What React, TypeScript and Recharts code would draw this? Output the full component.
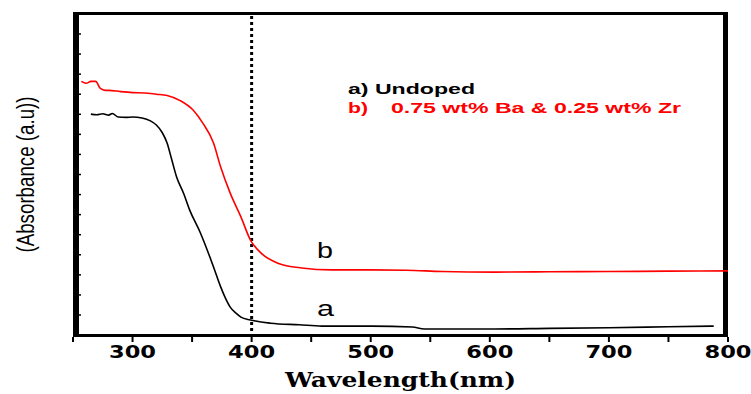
import React from "react";
import { LineChart, Line, XAxis, YAxis, ReferenceLine, Label } from "recharts";

// a) undoped sample
const undopedNm = [265, 270, 275, 280, 283, 288, 295, 300, 308, 315, 320, 325, 329, 333, 337, 343, 348, 357, 363, 368, 374, 378, 382, 387, 391, 399, 416, 440, 459, 501, 535, 545, 604, 650, 700, 750, 788];
const undopedAbs = [0.688, 0.686, 0.689, 0.685, 0.69, 0.679, 0.678, 0.679, 0.676, 0.667, 0.654, 0.63, 0.598, 0.545, 0.492, 0.44, 0.389, 0.318, 0.262, 0.212, 0.15, 0.115, 0.087, 0.068, 0.056, 0.047, 0.037, 0.032, 0.028, 0.028, 0.025, 0.019, 0.019, 0.021, 0.023, 0.026, 0.028];

// b) 0.75 wt% Ba & 0.25 wt% Zr
const dopedNm = [257, 261, 265, 269, 273, 277, 280, 290, 300, 310, 320, 329, 340, 351, 359, 368, 374, 382, 391, 399, 408, 422, 442, 467, 500, 530, 560, 604, 650, 700, 750, 800];
const dopedAbs = [0.79, 0.784, 0.79, 0.79, 0.768, 0.762, 0.762, 0.758, 0.755, 0.754, 0.75, 0.746, 0.73, 0.7, 0.66, 0.598, 0.523, 0.442, 0.368, 0.296, 0.255, 0.224, 0.209, 0.203, 0.203, 0.202, 0.198, 0.196, 0.197, 0.198, 0.199, 0.2];

const xDomain = [250, 800];
const yDomain = [-0.006, 1.006];
const xTicks = [250, 300, 350, 400, 450, 500, 550, 600, 650, 700, 750, 800];
const xLabelled = [300, 400, 500, 600, 700, 800];
const yTicks = [0.0625, 0.125, 0.1875, 0.25, 0.3125, 0.375, 0.4375, 0.5, 0.5625, 0.625, 0.6875, 0.75, 0.8125, 0.875, 0.9375];

const undoped = undopedNm.map((x, i) => ({ x, y: undopedAbs[i] }));
const doped = dopedNm.map((x, i) => ({ x, y: dopedAbs[i] }));

const XTick = (props: any) => {
    const { x, y, payload } = props;
    if (!xLabelled.includes(payload.value)) return <g />;
    return (
        <text x={x} y={y + 14} textAnchor="middle" fontFamily="'DejaVu Sans', sans-serif" fontWeight="bold"
            fontSize={17} fill="#000" textLength={47} lengthAdjust="spacingAndGlyphs">
            {payload.value}
        </text>
    );
};

const YTick = (props: any) => {
    const { x, y } = props;
    return <line x1={x} x2={x + 8} y1={y} y2={y} stroke="#000" strokeWidth={1.5} />;
};

// thick frame edge, drawn as a filled bar on the inner side of the plot edge
const frameBar = (w: number, side: "left" | "right" | "top" | "bottom") => (p: any) => {
    const x = Math.min(p.x1, p.x2);
    const y = Math.min(p.y1, p.y2);
    const dx = Math.abs(p.x2 - p.x1);
    const dy = Math.abs(p.y2 - p.y1);
    if (side === "left") return <rect x={x} y={y} width={w} height={dy} fill="#000" />;
    if (side === "right") return <rect x={x - w} y={y} width={w} height={dy} fill="#000" />;
    if (side === "top") return <rect x={x} y={y} width={dx} height={w} fill="#000" />;
    return <rect x={x} y={y - w} width={dx} height={w} fill="#000" />;
};

export default function App() {
    return (
        <div style={{ position: "absolute", left: 0, top: 0, width: 751, height: 394, background: "#fff" }}>
            <LineChart width={751} height={394} data={undoped} margin={{ top: 12, right: 23, bottom: 0, left: 72 }}>
                <XAxis xAxisId="bottom" type="number" dataKey="x" domain={xDomain} ticks={xTicks} interval={0}
                    height={57} tickSize={5} tickMargin={2} tick={<XTick />}
                    axisLine={false} tickLine={{ stroke: "#000", strokeWidth: 2 }}>
                    <Label content={(p: any) => {
                        const vb = p.viewBox;
                        return (
                            <text x={vb.x + vb.width / 2} y={vb.y + 50} textAnchor="middle"
                                fontFamily="'DejaVu Serif', 'Liberation Serif', serif" fontWeight="bold" fontSize={21}
                                textLength={231} lengthAdjust="spacingAndGlyphs" fill="#000">
                                Wavelength(nm)
                            </text>
                        );
                    }} />
                </XAxis>
                <YAxis yAxisId="left" type="number" domain={yDomain} ticks={yTicks} interval={0} width={1} tickSize={0} tickMargin={0}
                    tickLine={false} tick={<YTick />} axisLine={false}>
                    <Label content={(p: any) => {
                        const vb = p.viewBox;
                        const cy = vb.y + vb.height / 2;
                        return (
                            <text x={26} y={cy} transform={`rotate(-90 26 ${cy})`} textAnchor="middle" dominantBaseline="central"
                                fontFamily="'Liberation Sans Narrow', 'Liberation Sans', sans-serif" fontSize={23}
                                textLength={156} lengthAdjust="spacingAndGlyphs" fill="#000">
                                (Absorbance (a.u))
                            </text>
                        );
                    }} />
                </YAxis>

                {/* frame */}
                <ReferenceLine xAxisId="bottom" yAxisId="left" y={yDomain[1]} ifOverflow="visible" shape={frameBar(3, "top")} />
                <ReferenceLine xAxisId="bottom" yAxisId="left" y={yDomain[0]} ifOverflow="visible" shape={frameBar(3, "bottom")} />
                <ReferenceLine xAxisId="bottom" yAxisId="left" x={xDomain[0]} ifOverflow="visible" shape={frameBar(6, "left")} />
                <ReferenceLine xAxisId="bottom" yAxisId="left" x={xDomain[1]} ifOverflow="visible" shape={frameBar(5, "right")} />

                <ReferenceLine xAxisId="bottom" yAxisId="left" x={400} stroke="#000" strokeWidth={3} strokeDasharray="3 3" />
                <Line xAxisId="bottom" yAxisId="left" data={undoped} dataKey="y" type="monotone" stroke="#000"
                    strokeWidth={1.6} dot={false} isAnimationActive={false} />
                <Line xAxisId="bottom" yAxisId="left" data={doped} dataKey="y" type="monotone" stroke="#ff0000"
                    strokeWidth={1.6} dot={false} isAnimationActive={false} />
            </LineChart>

            {/* annotations */}
            <svg width={751} height={394} style={{ position: "absolute", left: 0, top: 0, pointerEvents: "none" }}>
                <g fontFamily="'Liberation Sans', Arial, sans-serif" fontWeight="bold" fontSize={15}>
                    <text x={348} y={94} fill="#000" textLength={127} lengthAdjust="spacingAndGlyphs">a) Undoped</text>
                    <text x={348} y={113} fill="#ff0000" textLength={20} lengthAdjust="spacingAndGlyphs">b)</text>
                    <text x={391} y={113} fill="#ff0000" textLength={290} lengthAdjust="spacingAndGlyphs">0.75 wt% Ba &amp; 0.25 wt% Zr</text>
                </g>
                <g fontFamily="'Liberation Sans', Arial, sans-serif" fontSize={22} fill="#000">
                    <text x={317} y={258} textLength={16} lengthAdjust="spacingAndGlyphs">b</text>
                    <text x={317} y={316} textLength={17} lengthAdjust="spacingAndGlyphs">a</text>
                </g>
            </svg>
        </div>
    );
}
